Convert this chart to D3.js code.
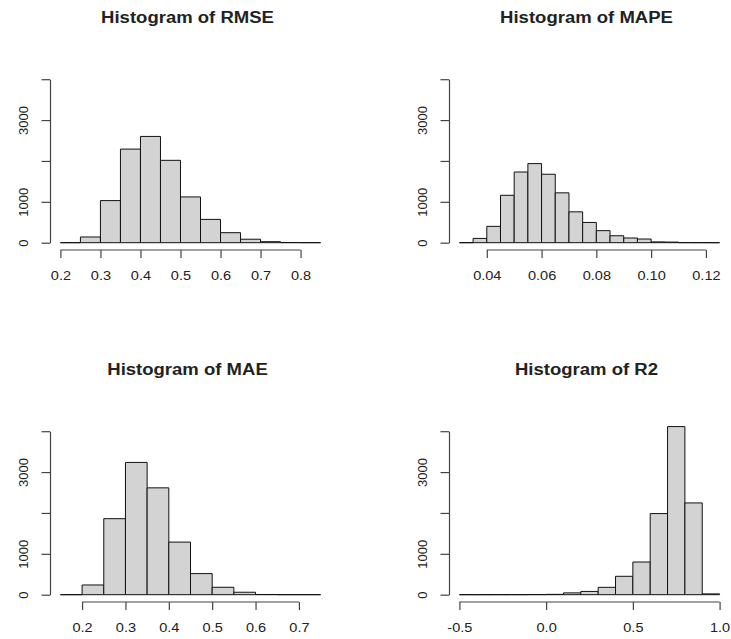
<!DOCTYPE html>
<html>
<head>
<meta charset="utf-8">
<script src="https://cdn.jsdelivr.net/npm/d3@7"></script>
<style>
  body { margin: 0; background: #fff; }
  text { font-family: "Liberation Sans", Arial, sans-serif; fill: #222; }
</style>
</head>
<body>
<div id="chart"></div>
<script>
// histogram breaks + counts
var rmseBreaks = [0.20, 0.25, 0.30, 0.35, 0.40, 0.45, 0.50, 0.55, 0.60, 0.65, 0.70, 0.75, 0.80, 0.85];
var rmseCounts = [0, 140, 1030, 2290, 2600, 2015, 1120, 570, 245, 85, 25, 3, 1];
var rmseTicks = [0.2, 0.3, 0.4, 0.5, 0.6, 0.7, 0.8];
var rmseTickLabels = ["0.2", "0.3", "0.4", "0.5", "0.6", "0.7", "0.8"];

var mapeBreaks = [0.030, 0.035, 0.040, 0.045, 0.050, 0.055, 0.060, 0.065, 0.070, 0.075,
                  0.080, 0.085, 0.090, 0.095, 0.100, 0.105, 0.110, 0.115, 0.120, 0.125];
var mapeCounts = [0, 105, 400, 1160, 1730, 1935, 1675, 1220, 755, 495, 295, 170, 115, 90, 20, 15, 2, 1, 0];
var mapeTicks = [0.04, 0.06, 0.08, 0.10, 0.12];
var mapeTickLabels = ["0.04", "0.06", "0.08", "0.10", "0.12"];

var maeBreaks = [0.15, 0.20, 0.25, 0.30, 0.35, 0.40, 0.45, 0.50, 0.55, 0.60, 0.65, 0.70, 0.75];
var maeCounts = [0, 238, 1860, 3236, 2614, 1287, 516, 182, 60, 5, 1, 1];
var maeTicks = [0.2, 0.3, 0.4, 0.5, 0.6, 0.7];
var maeTickLabels = ["0.2", "0.3", "0.4", "0.5", "0.6", "0.7"];

var r2Breaks = [-0.5, -0.4, -0.3, -0.2, -0.1, 0.0, 0.1, 0.2, 0.3, 0.4, 0.5, 0.6, 0.7, 0.8, 0.9, 1.0];
var r2Counts = [0, 0, 1, 1, 3, 8, 45, 80, 180, 450, 800, 1985, 4113, 2245, 20];
var r2Ticks = [-0.5, 0.0, 0.5, 1.0];
var r2TickLabels = ["-0.5", "0.0", "0.5", "1.0"];

var yTicks = [0, 1000, 2000, 3000, 4000];
var yTickShown = [0, 1000, 3000];   // R drops the overlapping ones

var titles = ["Histogram of RMSE", "Histogram of MAPE", "Histogram of MAE", "Histogram of R2"];

var width = 731,
    height = 639;

var colX = [[50, 331], [449, 730]];
var rowY0 = [242.7, 594.7];   // pixel of count 0
var yLen = 163.5;             // 0..4000

var svg = d3.select("#chart")
            .append("svg")
            .attr("width", width)
            .attr("height", height);

var panels = [
  {breaks: rmseBreaks, counts: rmseCounts, ticks: rmseTicks, labels: rmseTickLabels, col: 0, row: 0},
  {breaks: mapeBreaks, counts: mapeCounts, ticks: mapeTicks, labels: mapeTickLabels, col: 1, row: 0},
  {breaks: maeBreaks, counts: maeCounts, ticks: maeTicks, labels: maeTickLabels, col: 0, row: 1},
  {breaks: r2Breaks, counts: r2Counts, ticks: r2Ticks, labels: r2TickLabels, col: 1, row: 1}
];

panels.forEach(function(p, k) {
  var b0 = p.breaks[0],
      bn = p.breaks[p.breaks.length - 1],
      ext = 0.04 * (bn - b0);
  var x = d3.scaleLinear().domain([b0 - ext, bn + ext]).range(colX[p.col]);
  var y0 = rowY0[p.row];
  var y = d3.scaleLinear().domain([0, 4000]).range([y0, y0 - yLen]);

  var g = svg.append("g").attr("class", "panel");

  // bars as closed paths so empty bins still show as a flat line (like R)
  var bins = p.counts.map(function(c, i) { return {lo: p.breaks[i], hi: p.breaks[i + 1], n: c}; });
  g.selectAll("path.bar")
    .data(bins)
    .enter().append("path")
    .attr("class", "bar")
    .attr("d", function(d) {
      var pa = d3.path();
      pa.moveTo(x(d.lo), y(0));
      pa.lineTo(x(d.lo), y(d.n));
      pa.lineTo(x(d.hi), y(d.n));
      pa.lineTo(x(d.hi), y(0));
      pa.closePath();
      return pa.toString();
    })
    .attr("fill", "#d3d3d3")
    .attr("stroke", "#111")
    .attr("stroke-width", 1);

  // x axis, R style: line only from first to last tick
  var xAxis = g.append("g")
    .attr("transform", "translate(0," + (y0 + 7.3) + ")")
    .call(d3.axisBottom(x)
      .tickValues(p.ticks)
      .tickFormat(function(d, i) { return p.labels[i]; })
      .tickSize(8)
      .tickPadding(12.5));
  xAxis.select(".domain").remove();
  xAxis.append("line")
    .attr("x1", x(p.ticks[0]))
    .attr("x2", x(p.ticks[p.ticks.length - 1]))
    .attr("stroke", "#444")
    .attr("stroke-width", 1.2);
  xAxis.selectAll(".tick line").attr("stroke", "#444").attr("stroke-width", 1.2);
  xAxis.selectAll("text")
    .attr("font-size", 13)
    .attr("font-family", null)
    .attr("transform", "scale(1.12,1)");

  // y axis
  var yAxis = g.append("g")
    .attr("transform", "translate(" + colX[p.col][0] + ",0)")
    .call(d3.axisLeft(y)
      .tickValues(yTicks)
      .tickFormat(function(d) { return yTickShown.indexOf(d) >= 0 ? d : ""; })
      .tickSize(8.5)
      .tickSizeOuter(0));
  yAxis.select(".domain").attr("stroke", "#444").attr("stroke-width", 1.2);
  yAxis.selectAll(".tick line").attr("stroke", "#444").attr("stroke-width", 1.2);
  yAxis.selectAll("text")
    .attr("x", null)
    .attr("dy", null)
    .attr("font-size", 13)
    .attr("font-family", null)
    .attr("text-anchor", "middle")
    .attr("transform", "translate(-22.5,0) rotate(-90)");

  // title
  var cx = (colX[p.col][0] + colX[p.col][1]) / 2 - 3;
  svg.append("text")
    .attr("text-anchor", "middle")
    .attr("font-size", 17)
    .attr("font-weight", "bold")
    .attr("transform", "translate(" + cx + "," + (y0 - 219.4) + ") scale(1.09,1)")
    .text(titles[k]);
});
</script>
</body>
</html>
